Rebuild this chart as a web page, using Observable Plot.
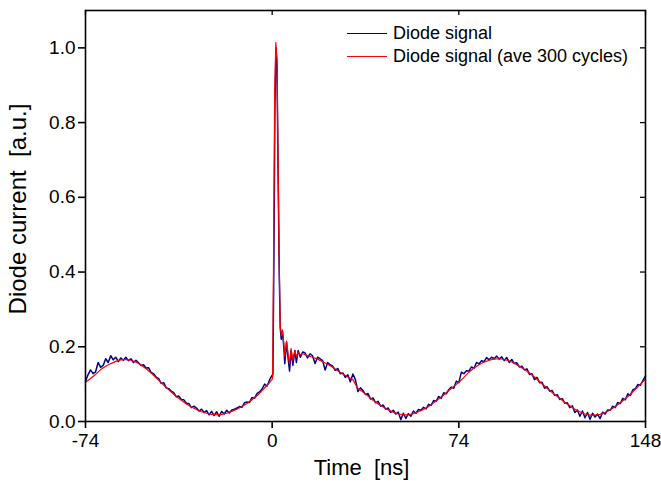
<!DOCTYPE html>
<html>
<head>
<meta charset="utf-8">
<script src="https://cdn.jsdelivr.net/npm/d3@7"></script>
<script src="https://cdn.jsdelivr.net/npm/@observablehq/plot@0.6"></script>
<style>
  html, body { margin: 0; padding: 0; background: #fff; }
  #wrap { position: relative; width: 661px; height: 483px; font-family: "Liberation Sans", Arial, sans-serif; }
  #legend { position: absolute; left: 347px; top: 22px; font-size: 18px; color: #000; }
  .row { display: flex; align-items: center; height: 23px; }
  .sw { width: 40px; height: 0; margin-right: 6px; }
</style>
</head>
<body>
<div id="wrap">
  <div id="legend"></div>
</div>
<script>
// ---- axes / labels ----
const xTicks = [-74, 0, 74, 148];
const yTicks = [0, 0.2, 0.4, 0.6, 0.8, 1.0];
const xDomain = [-74, 148];
const yDomain = [0, 1.1];
const xLabel = "Time  [ns]";
const yLabel = "Diode current  [a.u.]";
const seriesNames = ["Diode signal", "Diode signal (ave 300 cycles)"];
const seriesColors = ["#00008b", "#ff0000"];

// ---- Diode signal (single shot), 1 ns sampling before and after the pulse ----
const blueSeg1Start = -74;
const blueSeg1 = [
  0.108,0.125,0.138,0.128,0.133,0.158,0.145,0.150,0.168,0.158,
  0.176,0.165,0.172,0.160,0.170,0.164,0.172,0.163,0.168,0.158,
  0.164,0.157,0.150,0.152,0.143,0.144,0.131,0.128,0.119,0.115,
  0.102,0.104,0.090,0.088,0.081,0.077,0.066,0.068,0.059,0.058,
  0.049,0.048,0.037,0.041,0.036,0.028,0.033,0.024,0.029,0.018,
  0.027,0.016,0.026,0.014,0.027,0.020,0.030,0.023,0.031,0.033,
  0.036,0.040,0.038,0.050,0.052,0.051,0.064,0.062,0.075,0.079,
  0.087,0.100,0.095,0.112,0.124
];
const bluePulseT = [0.3,0.7,1.1,1.5,1.9,2.3,2.8,3.2,3.6,4.1,4.6,5.0,5.7,6.3,6.9,7.5,8.2,9.0,9.6,10.3,11.2,12.1];
const bluePulseV = [0.125,0.45,0.85,1.0,0.96,0.70,0.40,0.25,0.22,0.24,0.20,0.155,0.212,0.17,0.135,0.19,0.15,0.19,0.158,0.19,0.172,0.186];
const blueSeg2Start = 13;
const blueSeg2 = [
  0.184,0.170,0.181,0.176,0.155,0.172,0.168,0.163,0.138,0.158,
  0.152,0.148,0.137,0.142,0.128,0.130,0.118,0.125,0.106,0.127,
  0.112,0.080,0.090,0.083,0.072,0.075,0.060,0.063,0.050,0.054,
  0.041,0.044,0.033,0.036,0.024,0.030,0.020,0.025,0.005,0.022,
  0.008,0.021,0.014,0.028,0.022,0.032,0.030,0.038,0.034,0.046,
  0.043,0.056,0.054,0.067,0.062,0.077,0.074,0.085,0.092,0.089,
  0.108,0.104,0.132,0.128,0.136,0.135,0.146,0.142,0.158,0.154,
  0.163,0.160,0.171,0.165,0.172,0.168,0.175,0.167,0.173,0.163,
  0.171,0.158,0.166,0.155,0.157,0.146,0.148,0.138,0.141,0.126,
  0.128,0.112,0.118,0.104,0.105,0.089,0.093,0.081,0.083,0.070,
  0.072,0.059,0.061,0.049,0.050,0.037,0.042,0.024,0.031,0.014,
  0.028,0.010,0.024,0.006,0.022,0.012,0.020,0.008,0.025,0.020,
  0.031,0.030,0.041,0.037,0.051,0.048,0.062,0.058,0.074,0.070,
  0.085,0.088,0.099,0.097,0.110,0.122
];
const blueStep = 1;

// ---- Diode signal averaged over 300 cycles, 2 ns sampling outside the pulse ----
const redSeg1Start = -74;
const redSeg1 = [
  0.105,0.115,0.126,0.139,0.148,0.155,0.161,0.165,0.166,0.164,
  0.159,0.151,0.141,0.130,0.117,0.104,0.091,0.079,0.067,0.057,
  0.047,0.039,0.032,0.026,0.022,0.019,0.018,0.019,0.022,0.027,
  0.033,0.040,0.048,0.058,0.069,0.083,0.097
];
const redPulseT = [-1,0,0.2,0.6,1.0,1.45,1.9,2.3,2.8,3.2,3.6,4.1,4.6,5.0,5.7,6.4,6.9,7.5,8.2,9.0,9.6,10.3,11.2,12.0];
const redPulseV = [0.105,0.113,0.12,0.48,0.88,1.014,0.97,0.72,0.42,0.26,0.23,0.245,0.21,0.175,0.215,0.175,0.155,0.195,0.165,0.19,0.172,0.186,0.178,0.182];
const redSeg2Start = 14;
const redSeg2 = [
  0.176,0.172,0.167,0.160,0.153,0.145,0.136,0.127,0.119,0.112,
  0.088,0.079,0.068,0.057,0.047,0.039,0.031,0.025,0.020,0.018,
  0.018,0.021,0.026,0.032,0.040,0.050,0.060,0.071,0.083,0.094,
  0.105,0.118,0.132,0.143,0.152,0.159,0.164,0.167,0.168,0.166,
  0.162,0.156,0.148,0.139,0.130,0.119,0.107,0.095,0.083,0.072,
  0.062,0.051,0.042,0.033,0.026,0.020,0.017,0.017,0.019,0.024,
  0.031,0.040,0.050,0.061,0.073,0.086,0.100,0.113
];
const redStep = 2;

// ---- build tables ----
const blue = [
  ...blueSeg1.map((v, i) => ({t: blueSeg1Start + i * blueStep, v})),
  ...bluePulseT.map((t, i) => ({t, v: bluePulseV[i]})),
  ...blueSeg2.map((v, i) => ({t: blueSeg2Start + i * blueStep, v}))
];
const red = [
  ...redSeg1.map((v, i) => ({t: redSeg1Start + i * redStep, v})),
  ...redPulseT.map((t, i) => ({t, v: redPulseV[i]})),
  ...redSeg2.map((v, i) => ({t: redSeg2Start + i * redStep, v}))
];

const W = 661, H = 483;
const mL = 85, mR = 16, mT = 10, mB = 62;
// inner tick lengths expressed in data units
const innerTickPx = 5;
const yInner = (yDomain[1] - yDomain[0]) * innerTickPx / (H - mT - mB);
const xInner = (xDomain[1] - xDomain[0]) * innerTickPx / (W - mL - mR);

const chart = Plot.plot({
  width: W, height: H,
  marginLeft: mL, marginRight: mR, marginTop: mT, marginBottom: mB,
  x: {domain: xDomain},
  y: {domain: yDomain},
  style: {fontFamily: "'Liberation Sans', Arial, sans-serif", fontSize: "18px", background: "white", color: "black", overflow: "visible"},
  marks: [
    Plot.line(blue, {x: "t", y: "v", stroke: seriesColors[0], strokeWidth: 1.5}),
    Plot.line(red, {x: "t", y: "v", stroke: seriesColors[1], strokeWidth: 1.2}),
    Plot.frame({stroke: "black", strokeWidth: 1.6}),
    Plot.axisX(xTicks, {tickSize: 7, tickPadding: 5, fontSize: 19, label: null, tickFormat: d => String(d), strokeWidth: 1.6}),
    Plot.axisY(yTicks, {tickSize: 7, tickPadding: 3, fontSize: 19, label: null, tickFormat: d3.format(".1f"), strokeWidth: 1.6}),
    Plot.ruleX(xTicks, {y1: yDomain[1], y2: yDomain[1] - yInner, stroke: "black", strokeWidth: 1.3}),
    Plot.ruleY(yTicks.slice(1), {x1: xDomain[1], x2: xDomain[1] - xInner, stroke: "black", strokeWidth: 1.3}),
    Plot.text([xLabel], {frameAnchor: "bottom", dx: -4, dy: 53, fontSize: 22, fill: "black"}),
    Plot.text([yLabel], {frameAnchor: "left", textAnchor: "middle", dx: -67, dy: -7, rotate: -90, fontSize: 24, fill: "black"})
  ]
});

const wrap = document.getElementById("wrap");
wrap.insertBefore(chart, wrap.firstChild);

const legend = document.getElementById("legend");
seriesNames.forEach((name, i) => {
  const row = document.createElement("div");
  row.className = "row";
  const sw = document.createElement("div");
  sw.className = "sw";
  sw.style.borderTop = `1.5px solid ${seriesColors[i]}`;
  const label = document.createElement("span");
  label.textContent = name;
  row.appendChild(sw);
  row.appendChild(label);
  legend.appendChild(row);
});
</script>
</body>
</html>
